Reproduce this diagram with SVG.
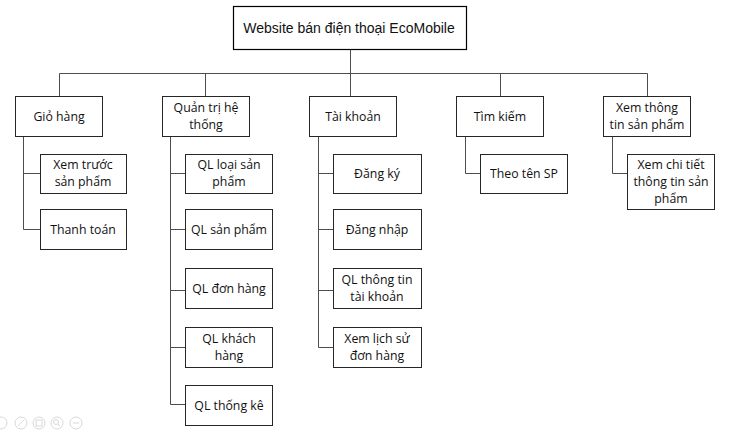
<svg xmlns="http://www.w3.org/2000/svg" width="736" height="442" viewBox="0 0 736 442">
  <style>
    .box { fill: #ffffff; stroke: #262626; stroke-width: 1; }
    .root { fill: #ffffff; stroke: #000000; stroke-width: 1.2; }
    .lbl { font-family: "Open Sans", "Noto Sans", "DejaVu Sans", sans-serif; font-size: 12.3px; fill: #111111; text-anchor: middle; }
    .title { font-family: "Liberation Sans", Arial, sans-serif; font-size: 14px; fill: #111111; text-anchor: middle; }
    .wire { fill: none; stroke: #4d4d4d; stroke-width: 1; }
    .ui { fill: none; stroke: #d9d9d9; stroke-width: 1; }
  </style>

  <rect width="736" height="442" fill="#ffffff"/>

  <!-- connectors -->
  <g id="connectors">
    <path class="wire" d="M350.5 49 V73.5 M59.5 73.5 H647.5 M59.5 73.5 V96 M205.5 73.5 V96 M350.5 73.5 V96 M500.5 73.5 V96 M647.5 73.5 V96"/>
    <path class="wire" d="M23.5 136 V229.5 H40 M23.5 173.5 H40"/>
    <path class="wire" d="M170.5 136 V404.5 H185 M170.5 173.5 H185 M170.5 229.5 H185 M170.5 290.5 H185 M170.5 347.5 H185"/>
    <path class="wire" d="M318.5 136 V347.5 H333 M318.5 173.5 H333 M318.5 229.5 H333 M318.5 290.5 H333"/>
    <path class="wire" d="M465.5 136 V173.5 H480"/>
    <path class="wire" d="M612.5 136 V173.5 H627"/>
  </g>

  <!-- root -->
  <g id="root">
    <rect class="root" x="233.5" y="6.5" width="233" height="43"/>
    <text class="title" x="349" y="32.5">Website bán điện thoại EcoMobile</text>
  </g>

  <!-- level 1 -->
  <g id="gio-hang">
    <rect class="box" x="15.5" y="96.5" width="87" height="40"/>
    <text class="lbl" x="59" y="121">Giỏ hàng</text>
  </g>
  <g id="quan-tri">
    <rect class="box" x="162.5" y="96.5" width="87" height="40"/>
    <text class="lbl" x="206" y="112">Quản trị hệ</text>
    <text class="lbl" x="206" y="129">thống</text>
  </g>
  <g id="tai-khoan">
    <rect class="box" x="309.5" y="96.5" width="87" height="40"/>
    <text class="lbl" x="353" y="121">Tài khoản</text>
  </g>
  <g id="tim-kiem">
    <rect class="box" x="456.5" y="96.5" width="87" height="40"/>
    <text class="lbl" x="500" y="121">Tìm kiếm</text>
  </g>
  <g id="xem-thong-tin">
    <rect class="box" x="603.5" y="96.5" width="87" height="40"/>
    <text class="lbl" x="647" y="112">Xem thông</text>
    <text class="lbl" x="647" y="129">tin sản phẩm</text>
  </g>

  <!-- Giỏ hàng children -->
  <g id="xem-truoc">
    <rect class="box" x="40.5" y="154.5" width="86" height="39"/>
    <text class="lbl" x="83" y="169">Xem trước</text>
    <text class="lbl" x="83" y="186">sản phẩm</text>
  </g>
  <g id="thanh-toan">
    <rect class="box" x="40.5" y="209.5" width="86" height="40"/>
    <text class="lbl" x="83" y="234">Thanh toán</text>
  </g>

  <!-- Quản trị hệ thống children -->
  <g id="ql-loai-sp">
    <rect class="box" x="185.5" y="154.5" width="87" height="39"/>
    <text class="lbl" x="229" y="169">QL loại sản</text>
    <text class="lbl" x="229" y="186">phẩm</text>
  </g>
  <g id="ql-san-pham">
    <rect class="box" x="185.5" y="209.5" width="87" height="40"/>
    <text class="lbl" x="229" y="234">QL sản phẩm</text>
  </g>
  <g id="ql-don-hang">
    <rect class="box" x="185.5" y="268.5" width="87" height="40"/>
    <text class="lbl" x="229" y="293">QL đơn hàng</text>
  </g>
  <g id="ql-khach-hang">
    <rect class="box" x="185.5" y="327.5" width="87" height="40"/>
    <text class="lbl" x="229" y="343">QL khách</text>
    <text class="lbl" x="229" y="360">hàng</text>
  </g>
  <g id="ql-thong-ke">
    <rect class="box" x="185.5" y="385.5" width="87" height="40"/>
    <text class="lbl" x="229" y="410">QL thống kê</text>
  </g>

  <!-- Tài khoản children -->
  <g id="dang-ky">
    <rect class="box" x="333.5" y="154.5" width="88" height="39"/>
    <text class="lbl" x="377" y="178">Đăng ký</text>
  </g>
  <g id="dang-nhap">
    <rect class="box" x="333.5" y="209.5" width="88" height="40"/>
    <text class="lbl" x="377" y="234">Đăng nhập</text>
  </g>
  <g id="ql-thong-tin-tk">
    <rect class="box" x="333.5" y="268.5" width="88" height="40"/>
    <text class="lbl" x="377" y="284">QL thông tin</text>
    <text class="lbl" x="377" y="301">tài khoản</text>
  </g>
  <g id="lich-su-don">
    <rect class="box" x="333.5" y="327.5" width="88" height="40"/>
    <text class="lbl" x="377" y="343">Xem lịch sử</text>
    <text class="lbl" x="377" y="360">đơn hàng</text>
  </g>

  <!-- Tìm kiếm child -->
  <g id="theo-ten-sp">
    <rect class="box" x="480.5" y="154.5" width="87" height="39"/>
    <text class="lbl" x="524" y="178">Theo tên SP</text>
  </g>

  <!-- Xem thông tin sản phẩm child -->
  <g id="xem-chi-tiet">
    <rect class="box" x="627.5" y="154.5" width="87" height="55"/>
    <text class="lbl" x="671" y="169">Xem chi tiết</text>
    <text class="lbl" x="671" y="186">thông tin sản</text>
    <text class="lbl" x="671" y="203">phẩm</text>
  </g>

  <!-- viewer toolbar, bottom left -->
  <g id="toolbar">
    <circle class="ui" cx="1" cy="423" r="6"/>
    <circle class="ui" cx="21" cy="423" r="6"/>
    <path class="ui" d="M18 426 L24 420"/>
    <circle class="ui" cx="39" cy="423" r="6"/>
    <rect class="ui" x="36" y="420" width="6" height="6"/>
    <circle class="ui" cx="57" cy="423" r="6"/>
    <circle class="ui" cx="56" cy="422" r="2.5"/>
    <path class="ui" d="M58 424 L60 426"/>
    <circle class="ui" cx="76" cy="423" r="6"/>
    <path class="ui" d="M73 423 H79"/>
  </g>
</svg>
